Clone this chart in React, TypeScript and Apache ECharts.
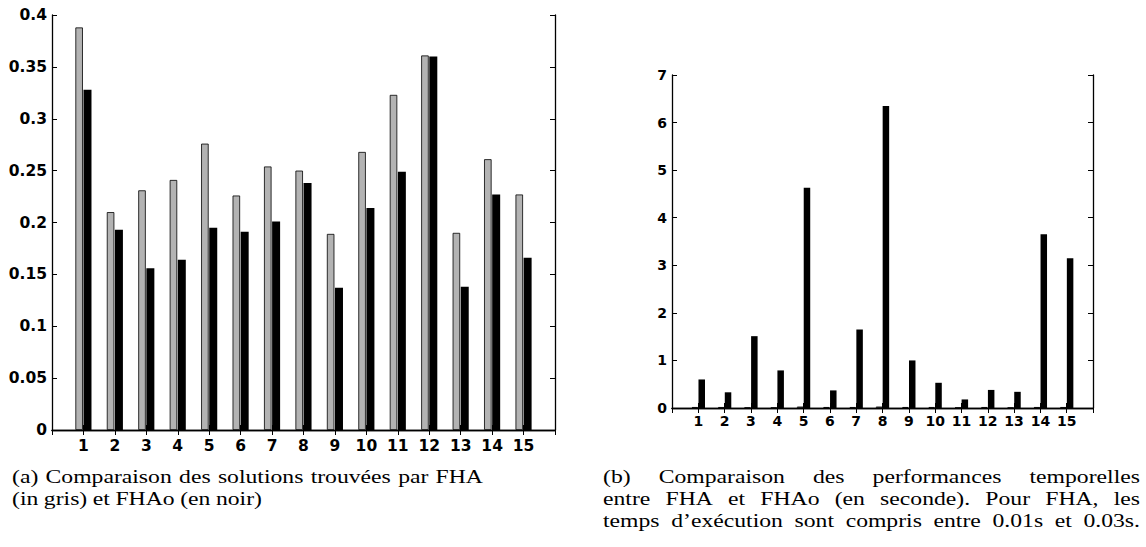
import React, { useEffect, useRef } from "react";
import * as echarts from "echarts";

// ---------- data ----------
const categories = [1, 2, 3, 4, 5, 6, 7, 8, 9, 10, 11, 12, 13, 14, 15];

// (a) solutions: FHA (gris) / FHAo (noir)
const fhaSolutions = [0.388, 0.21, 0.231, 0.241, 0.276, 0.226, 0.254, 0.25, 0.189, 0.268, 0.323, 0.361, 0.19, 0.261, 0.227];
const fhaoSolutions = [0.328, 0.193, 0.156, 0.164, 0.195, 0.191, 0.201, 0.238, 0.137, 0.214, 0.249, 0.36, 0.138, 0.227, 0.166];

// (b) temps d'exécution (s)
const fhaTimes = [0.02, 0.02, 0.01, 0.01, 0.03, 0.02, 0.02, 0.03, 0.02, 0.02, 0.01, 0.02, 0.01, 0.02, 0.02];
const fhaoTimes = [0.6, 0.33, 1.51, 0.79, 4.63, 0.37, 1.65, 6.35, 1.0, 0.53, 0.18, 0.38, 0.34, 3.65, 3.15];

// axis ranges
const yRangeA = { min: 0, max: 0.4, interval: 0.05 };
const yRangeB = { min: 0, max: 7, interval: 1 };

// captions
const captionA = [
  "(a) Comparaison des solutions trouvées par FHA",
  "(in gris) et FHAo (en noir)",
];
const captionB = [
  "(b) Comparaison des performances temporelles",
  "entre FHA et FHAo (en seconde). Pour FHA, les",
  "temps d’exécution sont compris entre 0.01s et 0.03s.",
];

const GRAY = "#b3b3b3";
const SANS = "DejaVu Sans";
const SERIF = "Liberation Serif";
const CAP_SIZE = 18.5;
const CAP_STRETCH = 1.28;

function measure(word: string): number {
  const span = document.createElement("span");
  span.style.position = "absolute";
  span.style.visibility = "hidden";
  span.style.whiteSpace = "pre";
  span.style.fontFamily = SERIF;
  span.style.fontSize = CAP_SIZE + "px";
  span.textContent = word;
  document.body.appendChild(span);
  const w = span.getBoundingClientRect().width;
  document.body.removeChild(span);
  return w * CAP_STRETCH;
}

function justify(line: string, x0: number, x1: number, y: number): any[] {
  const words = line.split(" ");
  const widths = words.map(measure);
  const total = widths.reduce((a, b) => a + b, 0);
  const gap = words.length > 1 ? (x1 - x0 - total) / (words.length - 1) : 0;
  const out: any[] = [];
  let x = x0;
  words.forEach((w, i) => {
    out.push({
      type: "text",
      x,
      y,
      scaleX: CAP_STRETCH,
      silent: true,
      style: {
        text: w,
        fontSize: CAP_SIZE,
        fontFamily: SERIF,
        fill: "#000",
        verticalAlign: "middle",
        align: "left",
      },
    });
    x += widths[i] + gap;
  });
  return out;
}

export default function App() {
  const ref = useRef<HTMLDivElement>(null);

  useEffect(() => {
    if (!ref.current) return;
    const chart = echarts.init(ref.current, undefined, { renderer: "svg" });
    const xData = ["", ...categories.map(String), ""];

    const catAxis = (gridIndex: number, position: "bottom" | "top", fontSize: number, margin: number) => ({
      type: "category",
      gridIndex,
      position,
      data: xData,
      boundaryGap: false,
      axisLine: { show: true, lineStyle: { color: "#000", width: 1.3 } },
      axisTick: { show: true, inside: true, length: 5, interval: 0, lineStyle: { color: "#000", width: 1 } },
      axisLabel: {
        show: position === "bottom",
        interval: 0,
        margin,
        fontSize,
        fontWeight: "bold",
        fontFamily: SANS,
        color: "#000",
      },
      splitLine: { show: false },
    });

    const valAxis = (gridIndex: number, position: "left" | "right", r: any, fontSize: number) => ({
      type: "value",
      gridIndex,
      position,
      min: r.min,
      max: r.max,
      interval: r.interval,
      axisLine: { show: true, onZero: false, lineStyle: { color: "#000", width: 1.3 } },
      axisTick: { show: true, inside: true, length: 5, lineStyle: { color: "#000", width: 1 } },
      axisLabel: {
        show: position === "left",
        margin: 5,
        fontSize,
        fontWeight: "bold",
        fontFamily: SANS,
        color: "#000",
      },
      splitLine: { show: false },
    });

    const graphics: any[] = [];
    graphics.push(...justify(captionA[0], 12, 483, 477));
    graphics.push(...justify(captionA[1], 12, 262, 499));
    graphics.push(...justify(captionB[0], 603, 1140, 477));
    graphics.push(...justify(captionB[1], 603, 1140, 499));
    graphics.push(...justify(captionB[2], 603, 1140, 521));

    chart.setOption({
      animation: false,
      backgroundColor: "#fff",
      grid: [
        { left: 52, top: 15, width: 503, height: 415 },
        { left: 672, top: 75, width: 421, height: 333 },
      ],
      xAxis: [
        catAxis(0, "bottom", 15.5, 8),
        catAxis(0, "top", 15.5, 8),
        catAxis(1, "bottom", 14, 6),
        catAxis(1, "top", 14, 6),
      ],
      yAxis: [
        valAxis(0, "left", yRangeA, 15.5),
        valAxis(0, "right", yRangeA, 15.5),
        valAxis(1, "left", yRangeB, 14),
        valAxis(1, "right", yRangeB, 14),
      ],
      series: [
        {
          name: "FHA",
          type: "bar",
          xAxisIndex: 0,
          yAxisIndex: 0,
          barWidth: 7.5,
          barGap: "8%",
          data: fhaSolutions.map((v, i) => [i + 1, v]),
          itemStyle: { color: GRAY, borderColor: "#000", borderWidth: 0.8 },
        },
        {
          name: "FHAo",
          type: "bar",
          xAxisIndex: 0,
          yAxisIndex: 0,
          barWidth: 8,
          data: fhaoSolutions.map((v, i) => [i + 1, v]),
          itemStyle: { color: "#000" },
        },
        {
          name: "FHA temps",
          type: "bar",
          xAxisIndex: 2,
          yAxisIndex: 2,
          barWidth: 6.5,
          barGap: "5%",
          data: fhaTimes.map((v, i) => [i + 1, v]),
          itemStyle: { color: GRAY, borderColor: "#000", borderWidth: 0.8 },
        },
        {
          name: "FHAo temps",
          type: "bar",
          xAxisIndex: 2,
          yAxisIndex: 2,
          barWidth: 6.5,
          data: fhaoTimes.map((v, i) => [i + 1, v]),
          itemStyle: { color: "#000" },
        },
      ],
      graphic: graphics,
    });

    return () => chart.dispose();
  }, []);

  return (
    <div
      ref={ref}
      style={{ position: "absolute", left: 0, top: 0, width: 1146, height: 547, background: "#fff" }}
    />
  );
}
